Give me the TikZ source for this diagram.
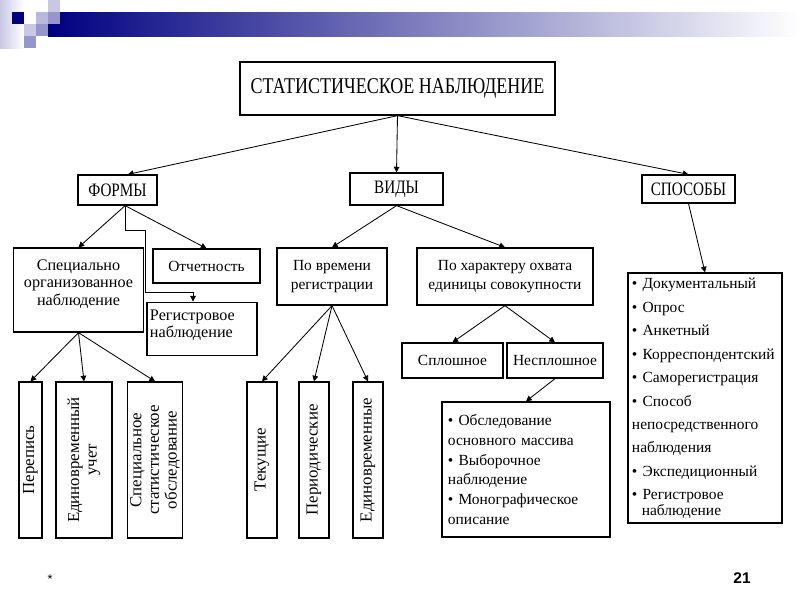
\documentclass[tikz,border=0pt]{standalone}
\usepackage{fontspec}
\setmainfont{Liberation Serif}
\newfontfamily\narrowfont[FakeStretch=0.8]{Liberation Serif}
\newfontfamily\footfont{Liberation Sans}
\usetikzlibrary{arrows.meta}
\definecolor{navy}{RGB}{0,0,128}
\definecolor{lavlight}{RGB}{200,200,230}
\definecolor{lavmid}{RGB}{150,150,204}
\tikzset{
  box/.style={draw, line width=0.9pt, inner sep=2pt, align=center, font=\fontsize{11}{14}\selectfont},
  capbox/.style={box, font=\narrowfont\fontsize{13.5}{15}\selectfont},
  upbox/.style={box, rotate=90, minimum width=3.9cm, font=\fontsize{12}{12.5}\selectfont},
  arr/.style={-{Triangle[length=4pt,width=4pt]}, line width=0.6pt},
}

\begin{document}
\begin{tikzpicture}[x=0.025cm, y=-0.025cm]
    \useasboundingbox (0,0) rectangle (800,600);
    % banner
    \shade[left color=navy, right color=white] (48,12) rectangle (800,36);
    \shade[left color=lavlight, right color=white] (0,0) rectangle (24,48);
    \fill[navy] (12,12) rectangle (24,24);
    \fill[lavlight] (48,0) rectangle (60,12);
    \fill[lavlight!70!lavmid] (36,12) rectangle (48,24);
    \fill[lavmid] (48,12) rectangle (60,24);
    \fill[lavlight] (24,24) rectangle (36,36);
    \fill[lavmid] (36,24) rectangle (48,36);
    \fill[lavmid] (24,36) rectangle (36,48);

    \node[box, minimum width=7.875cm, minimum height=1.325cm, font=\narrowfont\fontsize{16}{18}\selectfont] (title) at (397.5,88.5) {СТАТИСТИЧЕСКОЕ НАБЛЮДЕНИЕ};

    \node[capbox, minimum width=1.975cm, minimum height=0.75cm] (formy) at (117.5,190) {ФОРМЫ};
    \node[capbox, minimum width=2.325cm, minimum height=0.8cm] (vidy) at (396.5,189) {ВИДЫ};
    \node[capbox, minimum width=2.325cm, minimum height=0.7cm] (sposoby) at (688.5,189) {СПОСОБЫ};

    % forms
    \node[box, minimum width=3.225cm, minimum height=2.1cm, font=\fontsize{11.5}{12.4}\selectfont] (specorg) at (78.5,290) {\parbox[c][1.95cm][t]{3.1cm}{\vspace*{6pt}\centering Специально\\организованное\\наблюдение}};
    \node[box, minimum width=2.675cm, minimum height=0.85cm] (otch) at (206.5,266) {Отчетность};
    \node[box, minimum width=2.75cm, minimum height=1.3cm, font=\fontsize{11.5}{12.4}\selectfont] (reg) at (202,329) {\parbox[c][1.2cm][t]{2.6cm}{\vspace*{3.5pt}Регистровое\\наблюдение}};

    \node[upbox, minimum height=0.575cm] (perepis) at (30.5,460) {Перепись};
    \node[upbox, minimum height=1.4cm] (edinuchet) at (84,460) {Единовременный\\учет};
    \node[upbox, minimum height=1.35cm] (specstat) at (155,460) {Специальное\\статистическое\\обследование};

    % kinds
    \node[box, minimum width=2.75cm, minimum height=1.425cm] (povrem) at (332,276.5) {По времени\\регистрации};
    \node[box, minimum width=4.4cm, minimum height=1.425cm] (poharak) at (505,276.5) {По характеру охвата\\единицы совокупности};

    \node[upbox, minimum height=0.75cm] (tekush) at (262,460) {Текущие};
    \node[upbox, minimum height=0.75cm] (period) at (314,460) {Периодические};
    \node[upbox, minimum height=0.75cm] (edinovr) at (368,460) {Единовременные};

    \node[box, minimum width=2.525cm, minimum height=0.875cm] (splosh) at (452.5,360.5) {Сплошное};
    \node[box, minimum width=2.4cm, minimum height=0.875cm] (nesplosh) at (555,360.5) {Несплошное};
    \node[box, minimum width=4.2cm, minimum height=3.375cm, align=left, text width=3.9cm] (nesplist) at (526,469.5) {• Обследование\\основного массива\\• Выборочное\\наблюдение\\• Монографическое\\описание};

    % methods
    \node[box, minimum width=3.85cm, minimum height=6.25cm, align=left, text width=3.65cm, font=\fontsize{11}{16.7}\selectfont] (sposlist) at (705,398) {• Документальный\\• Опрос\\• Анкетный\\• Корреспондентский\\• Саморегистрация\\• Способ\\непосредственного\\наблюдения\\• Экспедиционный\\• Регистровое\\[-6pt]\hspace*{7pt}наблюдение};

    \draw[arr] (title.south) -- ([xshift=0.26cm]formy.north);
    \draw[arr] (title.south) -- (vidy.north);
    \draw[arr] (title.south) -- (sposoby.north);

    \draw[arr] ([xshift=0.19cm]formy.south) -- (specorg.north);
    \draw[arr] ([xshift=0.19cm]formy.south) -- (otch.north);
    \coordinate (regturn) at (193,292);
    \draw[arr] ([xshift=0.19cm]formy.south) |- (145,230) |- (regturn) -- (regturn |- reg.north);

    \draw[arr] (specorg.south) -- (perepis.east);
    \draw[arr] (specorg.south) -- (edinuchet.east);
    \draw[arr] (specorg.south) -- (specstat.east);

    \draw[arr] (vidy.south) -- (povrem.north);
    \draw[arr] (vidy.south) -- (poharak.north);
    \draw[arr] (povrem.south) -- (tekush.east);
    \draw[arr] (povrem.south) -- (period.east);
    \draw[arr] (povrem.south) -- (edinovr.east);
    \draw[arr] (poharak.south) -- (splosh.north);
    \draw[arr] (poharak.south) -- (nesplosh.north);
    \draw[arr] (nesplosh.south) -- (nesplist.north);

    \draw[arr] (sposoby.south) -- (sposlist.north);

    \node[font=\footfont\fontsize{9}{10}\selectfont] (star) at (50,579) {*};
    \node[font=\footfont\bfseries\fontsize{11}{12}\selectfont] (pagenum) at (742,578) {21};
\end{tikzpicture}
\end{document}
